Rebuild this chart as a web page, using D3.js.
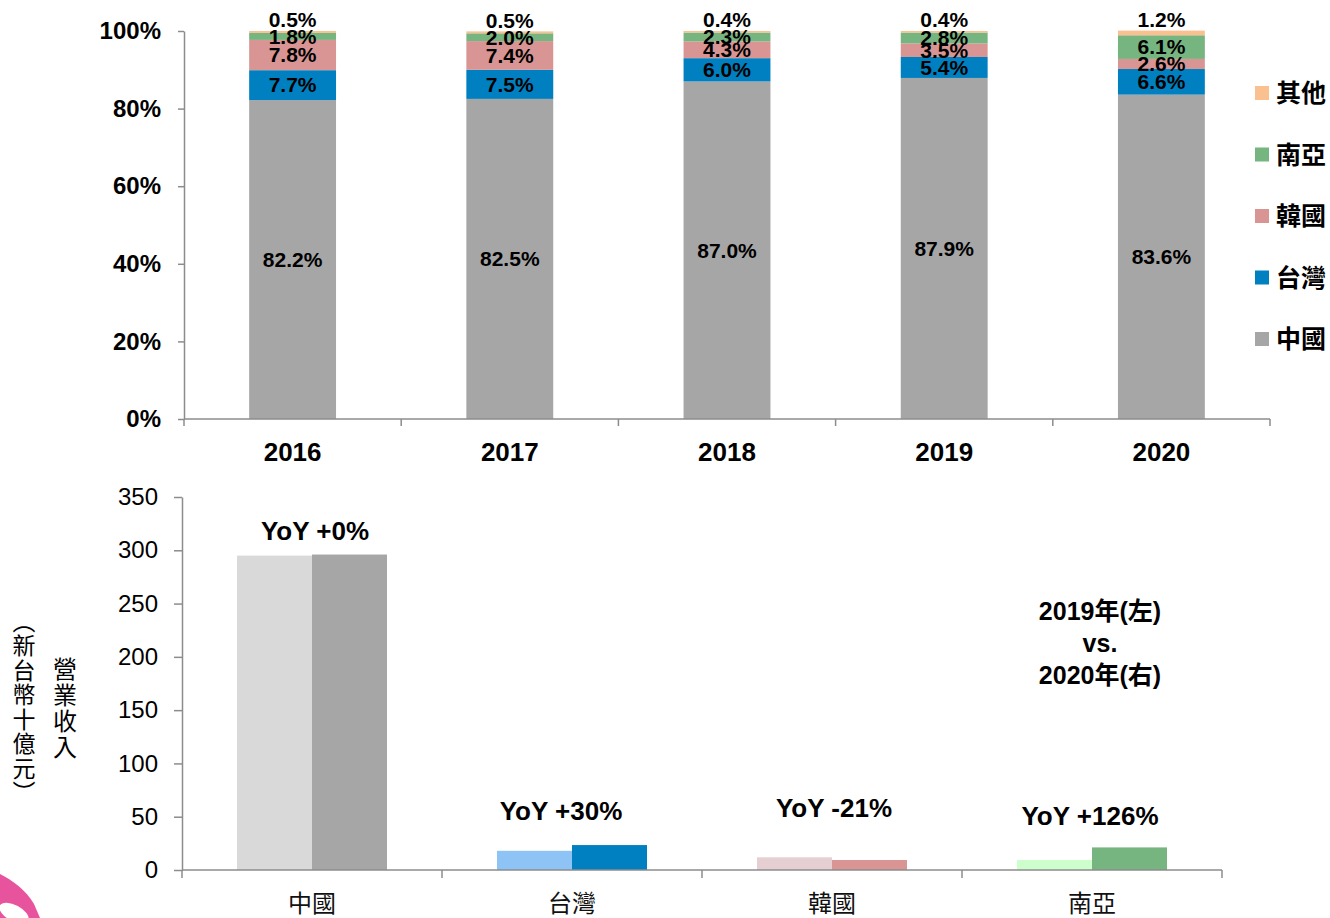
<!DOCTYPE html>
<html>
<head>
<meta charset="utf-8">
<script src="https://cdn.jsdelivr.net/npm/d3@7"></script>
<style>
  html, body { margin: 0; padding: 0; background: #fff; }
  svg { display: block; }
</style>
</head>
<body>
<div id="chart"></div>
<script>
(function () {
  "use strict";

  // top chart: regional share of revenue (%)
  var years          = ["2016", "2017", "2018", "2019", "2020"];
  var regions        = ["中國", "台灣", "韓國", "南亞", "其他"];
  var chinaShare     = [82.2, 82.5, 87.0, 87.9, 83.6];
  var taiwanShare    = [7.7, 7.5, 6.0, 5.4, 6.6];
  var koreaShare     = [7.8, 7.4, 4.3, 3.5, 2.6];
  var southAsiaShare = [1.8, 2.0, 2.3, 2.8, 6.1];
  var otherShare     = [0.5, 0.5, 0.4, 0.4, 1.2];
  var pctTicks       = [0, 20, 40, 60, 80, 100];

  // bottom chart: revenue by region (NT$ bn), 2019 vs 2020
  var revRegions = ["中國", "台灣", "韓國", "南亞"];
  var rev2019    = [295, 18.0, 11.9, 9.4];
  var rev2020    = [296, 23.4, 9.4, 21.2];
  var yoyLabels  = ["YoY +0%", "YoY +30%", "YoY -21%", "YoY +126%"];
  var revTicks   = [0, 50, 100, 150, 200, 250, 300, 350];

  var LATIN = "'Liberation Sans', Arial, sans-serif";
  var CJK   = "'Noto Sans CJK TC', 'Noto Sans CJK SC', sans-serif";
  var AXIS  = "#8c8c8c";

  var shareColors = ["#a6a6a6", "#0080c0", "#d99594", "#77b580", "#fac090"];
  var lightColors = ["#d9d9d9", "#8dc3f5", "#e6cfd2", "#ccffcc"];
  var darkColors  = ["#a6a6a6", "#0080c0", "#d99594", "#77b580"];

  var svg = d3.select("#chart").append("svg")
    .attr("width", 1330).attr("height", 918);

  // ---------- top: stacked 100% bars ----------
  var top = { left: 184, right: 1270, top: 31, bottom: 419 };

  var x = d3.scaleBand().domain(years).range([top.left, top.right]);
  var y = d3.scaleLinear().domain([0, 100]).range([top.bottom, top.top]);

  var series = [chinaShare, taiwanShare, koreaShare, southAsiaShare, otherShare];
  var rows = years.map(function (yr, i) {
    var r = { year: yr };
    regions.forEach(function (reg, k) { r[reg] = series[k][i]; });
    return r;
  });
  var stacked = d3.stack().keys(regions)(rows);

  var yAxisG = svg.append("g")
    .attr("transform", "translate(" + top.left + ",0)")
    .call(d3.axisLeft(y).tickValues(pctTicks).tickFormat(function (d) { return d + "%"; })
      .tickSize(6).tickSizeOuter(0).tickPadding(17));
  yAxisG.select(".domain").attr("stroke", AXIS).attr("stroke-width", 1.5);
  yAxisG.selectAll(".tick line").attr("stroke", AXIS).attr("stroke-width", 1.5);
  yAxisG.selectAll(".tick text")
    .attr("fill", "#000").attr("font-family", LATIN)
    .attr("font-weight", "bold").attr("font-size", "24px");

  var barW = x.bandwidth() * 0.4;

  stacked.forEach(function (layer, k) {
    svg.append("g").selectAll("rect")
      .data(layer)
      .join("rect")
        .attr("x", function (d) { return x(d.data.year) + (x.bandwidth() - barW) / 2; })
        .attr("y", function (d) { return y(d[1]); })
        .attr("width", barW)
        .attr("height", function (d) { return y(d[0]) - y(d[1]); })
        .attr("fill", shareColors[k]);
  });

  // x axis line + boundary ticks
  svg.append("line")
    .attr("x1", top.left).attr("x2", top.right)
    .attr("y1", top.bottom).attr("y2", top.bottom)
    .attr("stroke", AXIS).attr("stroke-width", 1.5);
  var bounds = years.map(function (yr) { return x(yr); }).concat([top.right]);
  svg.append("g").selectAll("line")
    .data(bounds)
    .join("line")
      .attr("x1", function (d) { return d; }).attr("x2", function (d) { return d; })
      .attr("y1", top.bottom).attr("y2", top.bottom + 7)
      .attr("stroke", AXIS).attr("stroke-width", 1.5);
  svg.append("g").selectAll("text")
    .data(years)
    .join("text")
      .attr("x", function (d) { return x(d) + x.bandwidth() / 2; })
      .attr("y", 452)
      .attr("dy", "0.35em")
      .attr("text-anchor", "middle")
      .attr("font-family", LATIN).attr("font-weight", "bold").attr("font-size", "26px")
      .text(function (d) { return d; });

  // segment labels
  stacked.forEach(function (layer, k) {
    svg.append("g").selectAll("text")
      .data(layer)
      .join("text")
        .attr("x", function (d) { return x(d.data.year) + x.bandwidth() / 2; })
        .attr("y", function (d) {
          if (k === regions.length - 1) return y(d[1]) - 11;
          return (y(d[0]) + y(d[1])) / 2;
        })
        .attr("dy", "0.35em")
        .attr("text-anchor", "middle")
        .attr("font-family", LATIN).attr("font-weight", "bold").attr("font-size", "21px")
        .attr("fill", "#000")
        .text(function (d) { return d.data[regions[k]].toFixed(1) + "%"; });
  });

  // legend (top to bottom: 其他 ... 中國)
  var legendItems = regions.slice().reverse();
  var lg = svg.append("g").selectAll("g")
    .data(legendItems)
    .join("g")
      .attr("transform", function (d, i) { return "translate(1255," + (93 + i * 61.5) + ")"; });
  lg.append("rect")
    .attr("x", 0).attr("y", -7).attr("width", 14).attr("height", 14)
    .attr("fill", function (d) { return shareColors[regions.indexOf(d)]; });
  lg.append("text")
    .attr("x", 21).attr("y", 0).attr("dy", "0.36em")
    .attr("font-family", CJK).attr("font-weight", "bold").attr("font-size", "25px")
    .text(function (d) { return d; });

  // ---------- bottom: grouped bars ----------
  var bot = { left: 182, right: 1222, top: 497, bottom: 870 };

  var bx = d3.scaleBand().domain(revRegions).range([bot.left, bot.right]);
  var by = d3.scaleLinear().domain([0, 350]).range([bot.bottom, bot.top]);
  var pairW = 150;
  var bx1 = d3.scaleBand().domain([0, 1]).range([0, pairW]);

  var byAxis = svg.append("g")
    .attr("transform", "translate(" + bot.left + ",0)")
    .call(d3.axisLeft(by).tickValues(revTicks).tickSize(8).tickSizeOuter(0).tickPadding(16));
  byAxis.select(".domain").attr("stroke", AXIS).attr("stroke-width", 1.5);
  byAxis.selectAll(".tick line").attr("stroke", AXIS).attr("stroke-width", 1.5);
  byAxis.selectAll(".tick text")
    .attr("fill", "#000").attr("font-family", LATIN).attr("font-size", "24px");

  var pairs = revRegions.map(function (r, i) { return { region: r, i: i, vals: [rev2019[i], rev2020[i]] }; });

  var pg = svg.append("g").selectAll("g")
    .data(pairs)
    .join("g")
      .attr("transform", function (d) {
        return "translate(" + (bx(d.region) + bx.bandwidth() / 2 - pairW / 2) + ",0)";
      });
  pg.selectAll("rect")
    .data(function (d) { return d.vals.map(function (v, j) { return { v: v, j: j, i: d.i }; }); })
    .join("rect")
      .attr("x", function (d) { return bx1(d.j); })
      .attr("y", function (d) { return by(d.v); })
      .attr("width", bx1.bandwidth())
      .attr("height", function (d) { return by(0) - by(d.v); })
      .attr("fill", function (d) { return d.j === 0 ? lightColors[d.i] : darkColors[d.i]; });

  svg.append("line")
    .attr("x1", bot.left).attr("x2", bot.right)
    .attr("y1", bot.bottom).attr("y2", bot.bottom)
    .attr("stroke", AXIS).attr("stroke-width", 1.5);
  var bBounds = revRegions.map(function (r) { return bx(r); }).concat([bot.right]);
  svg.append("g").selectAll("line")
    .data(bBounds)
    .join("line")
      .attr("x1", function (d) { return d; }).attr("x2", function (d) { return d; })
      .attr("y1", bot.bottom).attr("y2", bot.bottom + 8)
      .attr("stroke", AXIS).attr("stroke-width", 1.5);
  svg.append("g").selectAll("text")
    .data(revRegions)
    .join("text")
      .attr("x", function (d) { return bx(d) + bx.bandwidth() / 2; })
      .attr("y", 903)
      .attr("dy", "0.36em")
      .attr("text-anchor", "middle")
      .attr("font-family", CJK).attr("font-size", "24px")
      .attr("fill", "#111")
      .text(function (d) { return d; });

  // YoY labels (hand placed in the source, nudged per label)
  var yoyNudge = [[3, -2], [-11, -12], [2, -27], [-2, -9]];
  svg.append("g").selectAll("text")
    .data(pairs)
    .join("text")
      .attr("x", function (d) { return bx(d.region) + bx.bandwidth() / 2 + yoyNudge[d.i][0]; })
      .attr("y", function (d) { return by(d3.max(d.vals)) - 13 + yoyNudge[d.i][1]; })
      .attr("text-anchor", "middle")
      .attr("font-family", LATIN).attr("font-weight", "bold").attr("font-size", "26px")
      .text(function (d) { return yoyLabels[d.i]; });

  // 2019 vs 2020 note
  var note = ["2019年(左)", "vs.", "2020年(右)"];
  svg.append("g").selectAll("text")
    .data(note)
    .join("text")
      .attr("x", 1100)
      .attr("y", function (d, i) { return 611 + i * 32; })
      .attr("dy", "0.36em")
      .attr("text-anchor", "middle")
      .attr("font-family", LATIN + ", " + CJK).attr("font-weight", "bold").attr("font-size", "25px")
      .text(function (d) { return d; });

  // vertical y-axis title
  function vText(str, cx, cy, step, size) {
    var chars = Array.from(str);
    var y0 = cy - (chars.length - 1) * step / 2;
    svg.append("g").selectAll("text")
      .data(chars)
      .join("text")
        .attr("x", cx)
        .attr("y", function (d, i) { return y0 + i * step; })
        .attr("dy", "0.36em")
        .attr("text-anchor", "middle")
        .attr("font-family", CJK).attr("font-size", size + "px")
        .text(function (d) { return d; });
  }
  vText("營業收入", 65, 708, 26, 24);
  vText("\uFE35新台幣十億元\uFE36", 24, 707, 24.5, 23);

  // logo fragment bottom-left
  svg.append("path")
    .attr("d", "M0,874 C12,880 26,890 34,904 L40,918 L0,918 Z")
    .attr("fill", "#e8539e");
  svg.append("ellipse")
    .attr("cx", 14).attr("cy", 913).attr("rx", 16).attr("ry", 8)
    .attr("transform", "rotate(28,14,913)")
    .attr("fill", "#fff");
}());
</script>
</body>
</html>
